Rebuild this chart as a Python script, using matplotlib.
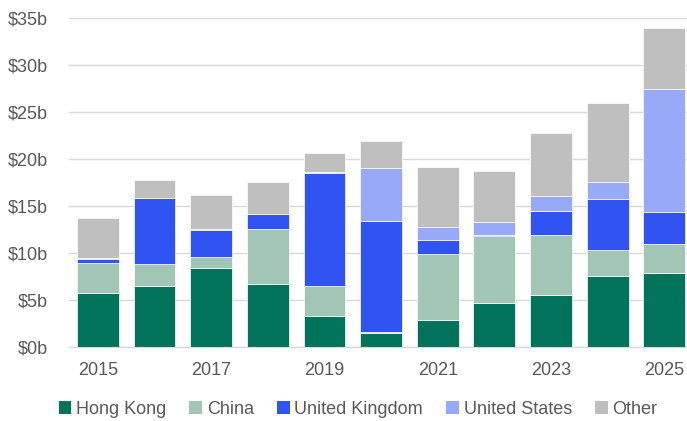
import numpy as np
import matplotlib
matplotlib.use('Agg')
from matplotlib import pyplot as plt

plt.rcParams['font.family'] = ['Liberation Sans', 'DejaVu Sans']

# Data (billions of dollars)
years = [2015, 2016, 2017, 2018, 2019, 2020, 2021, 2022, 2023, 2024, 2025]
hong_kong = [5.7, 6.5, 8.45, 6.75, 3.35, 1.5, 2.9, 4.7, 5.55, 7.55, 7.85]
china = [3.25, 2.3, 1.1, 5.8, 3.1, 0.05, 7.0, 7.15, 6.35, 2.8, 3.1]
united_kingdom = [0.45, 7.0, 2.9, 1.55, 12.05, 11.9, 1.5, 0.1, 2.6, 5.4, 3.4]
united_states = [0.05, 0.1, 0.07, 0.1, 0.1, 5.6, 1.4, 1.35, 1.6, 1.8, 13.05]
other = [4.3, 1.9, 3.6, 3.3, 2.0, 2.85, 6.4, 5.45, 6.7, 8.45, 6.55]

series = [("Hong Kong", hong_kong, "#00735A"),
          ("China", china, "#A2C6B6"),
          ("United Kingdom", united_kingdom, "#3153F2"),
          ("United States", united_states, "#98AAF7"),
          ("Other", other, "#BFBFBF")]

fig = plt.figure(figsize=(6.87, 4.21), dpi=100)
ax = fig.add_axes([69 / 687, 1 - 347 / 421, (687 - 69) / 687, (347 - 18) / 421])

x = np.arange(len(years))
bottom = np.zeros(len(years))
for name, vals, col in series:
    vals = np.array(vals)
    ax.bar(x, vals, bottom=bottom, width=0.74, color=col, edgecolor='white',
           linewidth=0.5, label=name, zorder=3)
    bottom += vals

ax.set_ylim(0, 35)
ax.set_xlim(-0.51, 10.4)
ax.set_yticks(np.arange(0, 36, 5))
ax.set_yticklabels([f"${v}b" for v in range(0, 36, 5)])
ax.set_xticks(x[::2])
ax.set_xticklabels([str(y) for y in years[::2]])
ax.grid(axis='y', color='#D9D9D9', linewidth=1, zorder=0)
for s in ['top', 'right', 'left']:
    ax.spines[s].set_visible(False)
ax.spines['bottom'].set_color('#D9D9D9')
ax.spines['bottom'].set_linewidth(1)
ax.tick_params(axis='both', length=0, labelsize=13, colors='#595959')
ax.tick_params(axis='x', pad=11)
ax.tick_params(axis='y', pad=15)

leg = fig.legend(loc='center', bbox_to_anchor=(358 / 687, 1 - 409 / 421), ncol=5,
                 frameon=False, fontsize=13, handlelength=0.7, handleheight=0.7,
                 handletextpad=0.25, columnspacing=1.3, labelcolor='#595959')
for h in leg.legend_handles:
    h.set_edgecolor('none')

fig.savefig('out.png', dpi=100)
